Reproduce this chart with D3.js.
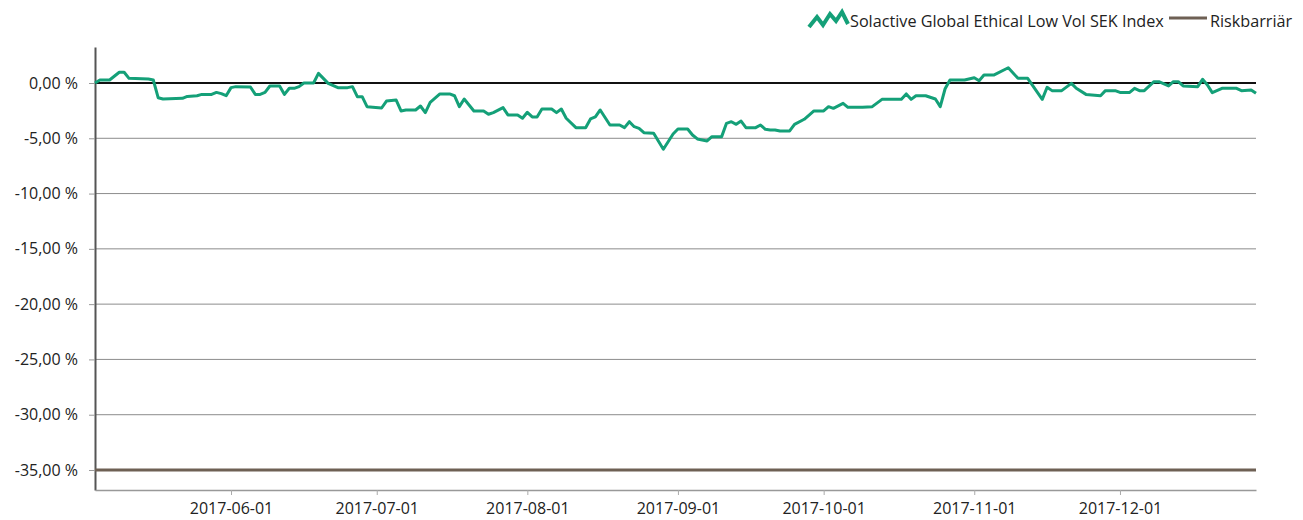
<!DOCTYPE html>
<html>
<head>
<meta charset="utf-8">
<script src="https://cdn.jsdelivr.net/npm/d3@7"></script>
<style>
  body { margin: 0; background: #fff; }
  svg text { font-family: "Open Sans", sans-serif; fill: #222; }
</style>
</head>
<body>
<svg id="chart" width="1303" height="520"></svg>
<script>
// index series (% change)
const dates = [
  '2017-05-04','2017-05-05','2017-05-07','2017-05-09','2017-05-10','2017-05-11','2017-05-15','2017-05-16',
  '2017-05-17','2017-05-18','2017-05-22','2017-05-23','2017-05-25','2017-05-26','2017-05-28','2017-05-29',
  '2017-05-30','2017-05-31','2017-06-01','2017-06-02','2017-06-05','2017-06-06','2017-06-07','2017-06-08',
  '2017-06-09','2017-06-11','2017-06-12','2017-06-13','2017-06-14','2017-06-15','2017-06-16','2017-06-18',
  '2017-06-19','2017-06-21','2017-06-23','2017-06-25','2017-06-26','2017-06-27','2017-06-28','2017-06-29',
  '2017-07-02','2017-07-03','2017-07-05','2017-07-06','2017-07-07','2017-07-09','2017-07-10','2017-07-11',
  '2017-07-12','2017-07-14','2017-07-16','2017-07-17','2017-07-18','2017-07-19','2017-07-21','2017-07-23',
  '2017-07-24','2017-07-25','2017-07-27','2017-07-28','2017-07-30','2017-07-31','2017-08-01','2017-08-02',
  '2017-08-03','2017-08-04','2017-08-06','2017-08-07','2017-08-08','2017-08-09','2017-08-11','2017-08-13',
  '2017-08-14','2017-08-15','2017-08-16','2017-08-18','2017-08-20','2017-08-21','2017-08-22','2017-08-23',
  '2017-08-24','2017-08-25','2017-08-27','2017-08-29','2017-08-31','2017-09-01','2017-09-03','2017-09-04',
  '2017-09-05','2017-09-06','2017-09-07','2017-09-08','2017-09-10','2017-09-11','2017-09-12','2017-09-13',
  '2017-09-14','2017-09-15','2017-09-17','2017-09-18','2017-09-19','2017-09-20','2017-09-21','2017-09-22',
  '2017-09-24','2017-09-25','2017-09-27','2017-09-29','2017-10-01','2017-10-02','2017-10-03','2017-10-05',
  '2017-10-06','2017-10-09','2017-10-11','2017-10-13','2017-10-17','2017-10-18','2017-10-19','2017-10-20',
  '2017-10-22','2017-10-24','2017-10-25','2017-10-26','2017-10-27','2017-10-30','2017-11-01','2017-11-02',
  '2017-11-03','2017-11-05','2017-11-08','2017-11-10','2017-11-12','2017-11-15','2017-11-16','2017-11-17',
  '2017-11-19','2017-11-21','2017-11-22','2017-11-24','2017-11-27','2017-11-28','2017-11-30','2017-12-01',
  '2017-12-03','2017-12-04','2017-12-05','2017-12-06','2017-12-08','2017-12-09','2017-12-11','2017-12-12',
  '2017-12-13','2017-12-14','2017-12-17','2017-12-18','2017-12-19','2017-12-20','2017-12-22','2017-12-25',
  '2017-12-26','2017-12-28','2017-12-29'
];
const indexValues = [
  0.00, 0.27, 0.27, 0.97, 0.97, 0.42, 0.36, 0.27,
  -1.33, -1.45, -1.39, -1.21, -1.15, -1.03, -1.03, -0.85,
  -0.96, -1.15, -0.42, -0.33, -0.36, -1.03, -1.03, -0.85,
  -0.27, -0.27, -1.03, -0.48, -0.48, -0.33, 0.00, 0.00,
  0.87, -0.03, -0.42, -0.42, -0.33, -1.24, -1.24, -2.14,
  -2.26, -1.63, -1.54, -2.53, -2.44, -2.44, -2.08, -2.68,
  -1.75, -0.99, -0.99, -1.15, -2.14, -1.45, -2.53, -2.53,
  -2.83, -2.68, -2.23, -2.89, -2.89, -3.19, -2.65, -3.07,
  -3.07, -2.35, -2.35, -2.68, -2.35, -3.19, -4.04, -4.04,
  -3.25, -3.07, -2.44, -3.80, -3.80, -4.04, -3.50, -3.95,
  -4.10, -4.49, -4.55, -5.99, -4.61, -4.16, -4.16, -4.70,
  -5.06, -5.15, -5.24, -4.85, -4.85, -3.65, -3.50, -3.74,
  -3.44, -4.04, -4.04, -3.80, -4.19, -4.25, -4.25, -4.34,
  -4.34, -3.74, -3.28, -2.53, -2.53, -2.14, -2.29, -1.84,
  -2.20, -2.20, -2.14, -1.48, -1.48, -0.99, -1.48, -1.15,
  -1.15, -1.45, -2.14, -0.52, 0.27, 0.27, 0.48, 0.21,
  0.72, 0.72, 1.38, 0.42, 0.42, -1.48, -0.39, -0.69,
  -0.69, -0.03, -0.48, -1.03, -1.15, -0.69, -0.69, -0.85,
  -0.85, -0.48, -0.69, -0.69, 0.12, 0.12, -0.27, 0.12,
  0.12, -0.27, -0.33, 0.33, -0.18, -0.87, -0.48, -0.48,
  -0.69, -0.63, -0.93
];
const riskBarrier = -35;
const yTicks = [0, -5, -10, -15, -20, -25, -30, -35];
const xTickDates = ['2017-06-01','2017-07-01','2017-08-01','2017-09-01','2017-10-01','2017-11-01','2017-12-01'];
const legendLabels = ['Solactive Global Ethical Low Vol SEK Index', 'Riskbarriär'];

const green = '#14a078';
const brown = '#6e6054';

const parse = d3.utcParse('%Y-%m-%d');
const data = dates.map((d, i) => ({ date: parse(d), value: indexValues[i] }));

const svg = d3.select('#chart');
const margin = { left: 95, right: 47, top: 47, bottom: 30 };
const width = 1303, height = 520;

const xScale = d3.scaleUtc()
  .domain([parse('2017-05-04'), parse('2017-12-29')])
  .range([margin.left, width - margin.right]);

const yScale = d3.scaleLinear()
  .domain([-36.81, 3.256])
  .range([height - margin.bottom, margin.top]);

// gridlines
svg.append('g')
  .selectAll('line')
  .data(yTicks.filter(t => t !== 0 && t !== riskBarrier))
  .join('line')
  .attr('x1', margin.left).attr('x2', width - margin.right)
  .attr('y1', d => yScale(d)).attr('y2', d => yScale(d))
  .attr('stroke', '#8c8c8c').attr('stroke-width', 1);

// y axis
const yAxis = svg.append('g')
  .attr('transform', `translate(${margin.left},0)`)
  .call(d3.axisLeft(yScale).tickValues(yTicks).tickSizeInner(6).tickSizeOuter(0).tickPadding(11)
    .tickFormat(d => d3.format('.2f')(d).replace('.', ',').replace('−', '-') + ' %'));
yAxis.select('.domain').attr('stroke', '#555').attr('stroke-width', 2);
yAxis.selectAll('.tick line').attr('stroke', '#999');
yAxis.selectAll('text').attr('font-size', 16).attr('font-family', '"Open Sans", sans-serif').attr('fill', '#222');

// x axis
const xAxis = svg.append('g')
  .attr('transform', `translate(0,${height - margin.bottom})`)
  .call(d3.axisBottom(xScale).tickValues(xTickDates.map(parse)).tickSizeInner(5).tickSizeOuter(0).tickPadding(8)
    .tickFormat(d3.utcFormat('%Y-%m-%d')));
xAxis.select('.domain').attr('stroke', '#999').attr('stroke-width', 1.5);
xAxis.selectAll('.tick line').attr('stroke', '#aaa');
xAxis.selectAll('text').attr('font-size', 16).attr('font-family', '"Open Sans", sans-serif').attr('fill', '#222');

// zero line
svg.append('line')
  .attr('x1', margin.left).attr('x2', width - margin.right)
  .attr('y1', yScale(0)).attr('y2', yScale(0))
  .attr('stroke', '#111').attr('stroke-width', 2);

// risk barrier
svg.append('line')
  .attr('x1', margin.left).attr('x2', width - margin.right)
  .attr('y1', yScale(riskBarrier)).attr('y2', yScale(riskBarrier))
  .attr('stroke', brown).attr('stroke-width', 3);

// index line
const line = d3.line()
  .x(d => xScale(d.date))
  .y(d => yScale(d.value));

svg.append('path')
  .datum(data)
  .attr('fill', 'none')
  .attr('stroke', green)
  .attr('stroke-width', 3)
  .attr('stroke-linejoin', 'round')
  .attr('d', line);

// legend
const legend = svg.append('g');
legend.append('path')
  .attr('d', 'M809,27 L817,17 L823,25 L830,14 L836,21 L842,12 L848,24')
  .attr('fill', 'none').attr('stroke', green).attr('stroke-width', 4);
legend.append('text')
  .attr('x', 850).attr('y', 27).attr('font-size', 16.2)
  .text(legendLabels[0]);
legend.append('line')
  .attr('x1', 1169).attr('x2', 1207).attr('y1', 18).attr('y2', 18)
  .attr('stroke', brown).attr('stroke-width', 3);
legend.append('text')
  .attr('x', 1210).attr('y', 27).attr('font-size', 16.2)
  .text(legendLabels[1]);
</script>
</body>
</html>
